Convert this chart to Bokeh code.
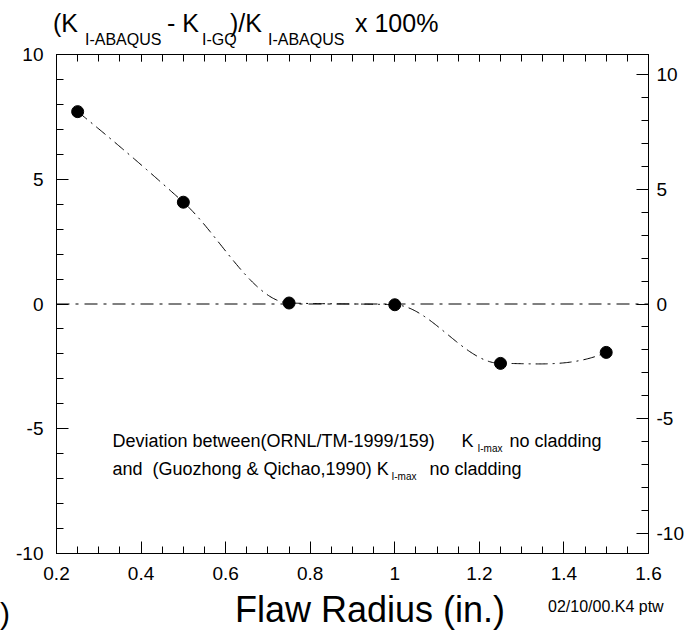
import numpy as np
from bokeh.plotting import figure
from bokeh.layouts import column
from bokeh.models import (Range1d, LinearAxis, Label, CustomJSTickFormatter,
                          FixedTicker, Span, Div)
from bokeh.embed import file_html
from bokeh.resources import INLINE

# ---- data -------------------------------------------------------------
flaw_radius = [0.25, 0.5, 0.75, 1.0, 1.25, 1.5]
deviation = [7.71, 4.08, 0.04, -0.03, -2.38, -1.94]

x_ticks = [0.2, 0.4, 0.6, 0.8, 1.0, 1.2, 1.4, 1.6]
x_tick_labels = ["0.2", "0.4", "0.6", "0.8", "1", "1.2", "1.4", "1.6"]
x_minor = [round(0.2 + 0.05 * i, 2) for i in range(29)]
y_ticks = [-10, -5, 0, 5, 10]
y_tick_labels = ["-10", "-5", "0", "5", "10"]
y_minor = list(range(-10, 11))
right_range = (-10.89, 10.89)

FONT = "Liberation Sans"
W = 689
TOP_H = 40      # title strip
FIG_TOP = 14    # border above frame inside figure
FRAME_H = 499
FIG_BOTTOM = 35
BOTTOM_H = 635 - TOP_H - (FIG_TOP + FRAME_H + FIG_BOTTOM)


def pchip(x, y, n=400):
    """Shape-preserving cubic curve through the measured points."""
    x = np.asarray(x, float)
    y = np.asarray(y, float)
    h = np.diff(x)
    d = np.diff(y) / h
    m = np.zeros(len(x))
    for k in range(1, len(x) - 1):
        if d[k - 1] * d[k] <= 0:
            m[k] = 0.0
        else:
            w1 = 2 * h[k] + h[k - 1]
            w2 = h[k] + 2 * h[k - 1]
            m[k] = (w1 + w2) / (w1 / d[k - 1] + w2 / d[k])
    m[0] = ((2 * h[0] + h[1]) * d[0] - h[0] * d[1]) / (h[0] + h[1])
    if np.sign(m[0]) != np.sign(d[0]):
        m[0] = 0
    m[-1] = ((2 * h[-1] + h[-2]) * d[-1] - h[-1] * d[-2]) / (h[-1] + h[-2])
    if np.sign(m[-1]) != np.sign(d[-1]):
        m[-1] = 0
    xs = np.linspace(x[0], x[-1], n)
    i = np.clip(np.searchsorted(x, xs) - 1, 0, len(x) - 2)
    t = (xs - x[i]) / h[i]
    h00 = 2 * t**3 - 3 * t**2 + 1
    h10 = t**3 - 2 * t**2 + t
    h01 = -2 * t**3 + 3 * t**2
    h11 = t**3 - t**2
    ys = h00 * y[i] + h10 * h[i] * m[i] + h01 * y[i + 1] + h11 * h[i] * m[i + 1]
    return xs, ys


p = figure(width=W, height=FIG_TOP + FRAME_H + FIG_BOTTOM,
           x_range=Range1d(0.2, 1.6), y_range=Range1d(-10, 10),
           output_backend="svg", toolbar_location=None,
           x_axis_location=None, y_axis_location=None,
           min_border_left=56, min_border_right=41,
           min_border_top=FIG_TOP, min_border_bottom=FIG_BOTTOM,
           margin=0)
p.extra_y_ranges = {"right": Range1d(*right_range)}
p.grid.visible = False
p.outline_line_color = "black"
p.outline_line_width = 1
p.outline_line_alpha = 1
p.background_fill_color = "white"
p.border_fill_alpha = 0      # let the title strip's subscripts show through


def fmt(tv, tl):
    return CustomJSTickFormatter(args=dict(tv=tv, tl=tl), code="""
        const i = tv.findIndex(t => Math.abs(t - tick) < 1e-9);
        return i >= 0 ? tl[i] : '';
    """)


def style(ax, major_in, minor_in, standoff, size="19px"):
    ax.axis_line_color = "black"
    ax.axis_line_width = 1
    ax.major_tick_in = major_in
    ax.major_tick_out = 0
    ax.minor_tick_in = minor_in
    ax.minor_tick_out = 0
    ax.major_tick_line_color = "black"
    ax.minor_tick_line_color = "black"
    ax.major_label_text_font = FONT
    ax.major_label_text_font_size = size
    ax.major_label_text_color = "black"
    ax.major_label_standoff = standoff


bottom = LinearAxis(ticker=FixedTicker(ticks=x_ticks, minor_ticks=x_minor),
                    formatter=fmt(x_ticks, x_tick_labels))
style(bottom, 12, 7, 13)
p.add_layout(bottom, "below")

top = LinearAxis(ticker=FixedTicker(ticks=x_ticks, minor_ticks=x_minor),
                 formatter=fmt([], []))
style(top, 7, 7, 0, size="0px")
p.add_layout(top, "above")

left = LinearAxis(ticker=FixedTicker(ticks=y_ticks, minor_ticks=y_minor),
                  formatter=fmt(y_ticks, y_tick_labels))
style(left, 12, 7, 13)
p.add_layout(left, "left")

right = LinearAxis(y_range_name="right",
                   ticker=FixedTicker(ticks=y_ticks, minor_ticks=y_minor),
                   formatter=fmt(y_ticks, y_tick_labels))
style(right, 12, 7, 8)
p.add_layout(right, "right")

# zero reference line
p.add_layout(Span(location=0, dimension="width", line_color="black",
                  line_width=1, line_dash="13 6 3 6"))

cx, cy = pchip(flaw_radius, deviation)
p.line(cx, cy, line_color="black", line_width=1, line_dash="12 5 2 5")
p.scatter(flaw_radius, deviation, size=12, marker="circle",
          fill_color="black", line_color="black")


# ---- in-frame annotation (reference pixel positions) --------------------
def dx(px):
    return 0.2 + (px - 56) / (648 - 56) * 1.4


def dy(py):
    return 10 - (py - 54) / (552.7 - 54) * 20


def lab(text, px, py, size):
    p.add_layout(Label(x=dx(px), y=dy(py), text=text, text_font=FONT,
                       text_font_size=size, text_color="black",
                       text_align="left", text_baseline="alphabetic"))


lab("Deviation between(ORNL/TM-1999/159)", 112, 440, "18px")
lab("K", 461, 440, "18px")
lab("I-max", 477, 448, "10px")
lab("no cladding", 509, 440, "18px")
lab("and", 112, 468, "18px")
lab("(Guozhong & Qichao,1990) K", 152, 468, "18px")
lab("I-max", 391, 476, "10px")
lab("no cladding", 429, 468, "18px")


# ---- text strips above and below the figure -----------------------------
def span(text, left, baseline, size, y0):
    top_px = baseline - y0 - 0.8465 * size
    return (f'<span style="position:absolute;left:{left}px;top:{top_px:.1f}px;'
            f'font-size:{size}px;line-height:1;white-space:pre;'
            f"font-family:'{FONT}';color:black;\">{text}</span>")


def strip(spans, h):
    return ('<div style="position:relative;width:%dpx;height:%dpx;'
            'overflow:visible;">%s</div>' % (W, h, "".join(spans)))


title_spans = [
    span("(K", 53, 32, 25, 0),
    span("I-ABAQUS", 85, 45, 16, 0),
    span("- K", 167, 32, 25, 0),
    span("I-GQ", 202, 45, 16, 0),
    span(")/K", 230, 32, 25, 0),
    span("I-ABAQUS", 268, 45, 16, 0),
    span("x 100%", 355, 32, 25, 0),
]
top_div = Div(text=strip(title_spans, TOP_H), width=W, height=TOP_H, margin=0,
              styles={"overflow": "visible"})

y_bottom0 = TOP_H + FIG_TOP + FRAME_H + FIG_BOTTOM
bottom_spans = [
    span(")", 0, 624, 30, y_bottom0),
    span("Flaw Radius (in.)", 235, 622, 36, y_bottom0),
    span("02/10/00.K4 ptw", 548, 612, 16, y_bottom0),
]
bottom_div = Div(text=strip(bottom_spans, BOTTOM_H), width=W, height=BOTTOM_H,
                 margin=0)

layout = column(top_div, p, bottom_div, spacing=0, margin=0)

open("out.html", "w").write(file_html(layout, INLINE))
